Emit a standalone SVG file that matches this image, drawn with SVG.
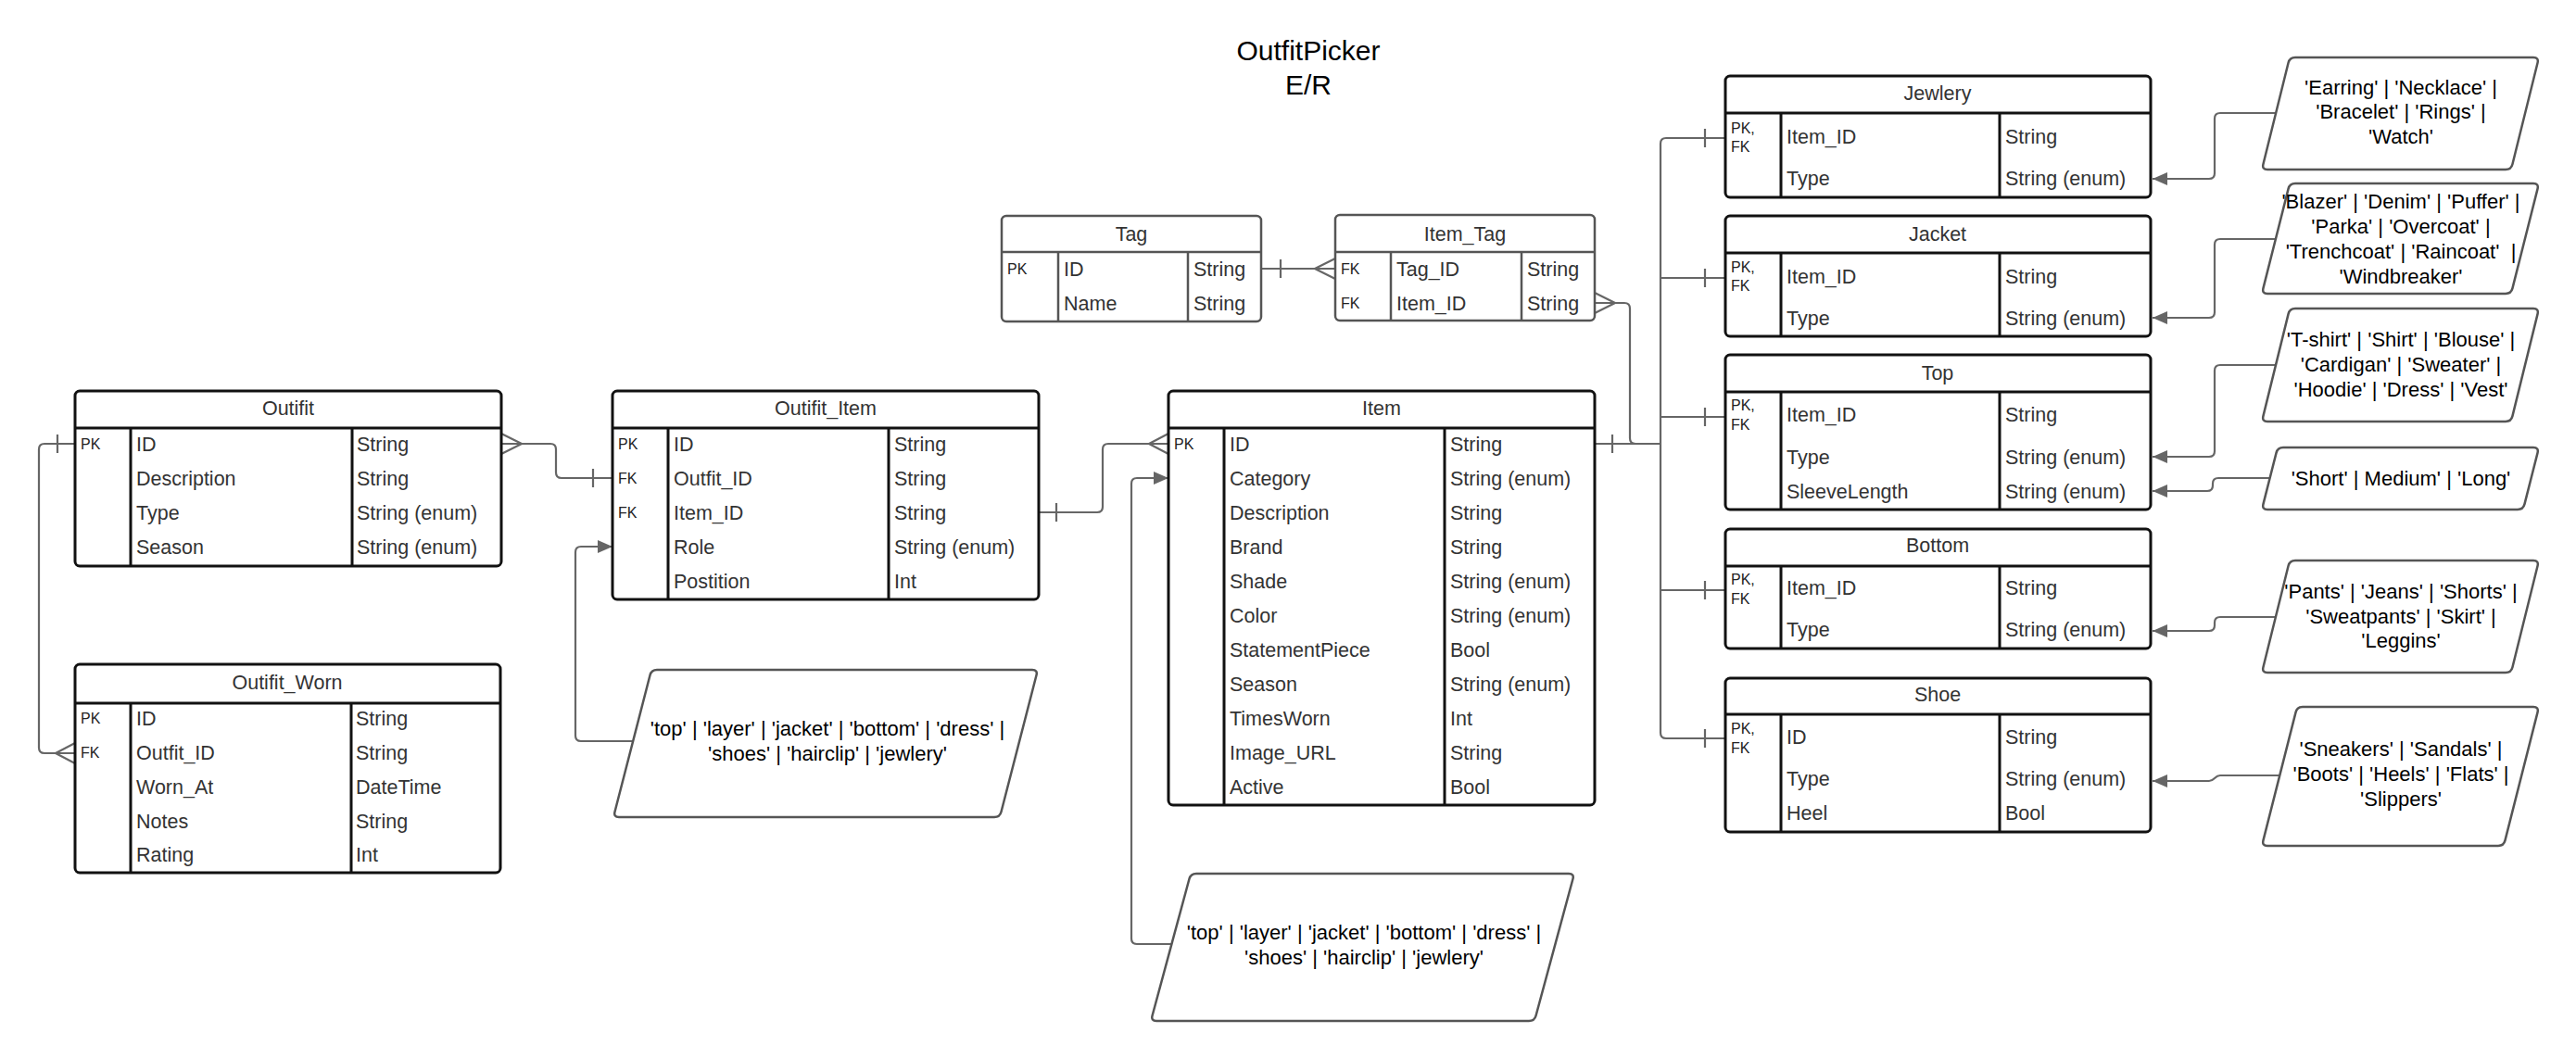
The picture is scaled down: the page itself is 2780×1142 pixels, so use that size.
<svg xmlns="http://www.w3.org/2000/svg" width="2780" height="1142" viewBox="0 0 2780 1142">
<defs>
<style>
.bg{fill:#fff}
.box{fill:#fff;stroke:#111;stroke-width:3}
.tbox{fill:#fff;stroke:#555;stroke-width:2.5}
.dv{stroke:#111;stroke-width:3}
.tdv{stroke:#555;stroke-width:2.5}
text{font-family:"Liberation Sans",Arial,sans-serif}
.t{font-size:21.5px;fill:#333}
.h{font-size:21.5px;fill:#333;text-anchor:middle}
.k{font-size:16px;fill:#222}
.note{fill:#fff;stroke:#555;stroke-width:2.5}
.nt{font-size:22px;fill:#000;text-anchor:middle}
.ttl{font-size:30px;fill:#000;text-anchor:middle}
.c{fill:none;stroke:#666;stroke-width:2.2}
.ar{fill:none;stroke:#666;stroke-width:2.2;marker-end:url(#arr)}
</style>
<marker id="arr" markerUnits="userSpaceOnUse" markerWidth="16" markerHeight="14" refX="16" refY="7" orient="auto">
<path d="M0,0 L16,7 L0,14 z" fill="#666"/>
</marker>
</defs>
<rect class="bg" x="0" y="0" width="2780" height="1142"/>

<g id="title">
<text class="ttl" x="1412" y="65">OutfitPicker</text>
<text class="ttl" x="1412" y="102">E/R</text>
</g>

<g id="connectors">
<!-- Outfit - Outfit_Worn -->
<path class="c" d="M81,479 H48 Q42,479 42,485 V807 Q42,813 48,813 H81"/>
<path class="c" d="M62,469 V489"/>
<path class="c" d="M60,813 L81,802 M60,813 L81,824"/>
<!-- Outfit - Outfit_Item -->
<path class="c" d="M541,479 H594 Q600,479 600,485 V510 Q600,516 606,516 H661"/>
<path class="c" d="M563,479 L541,468 M563,479 L541,490"/>
<path class="c" d="M640,506 V526"/>
<!-- Outfit_Item - Item -->
<path class="c" d="M1121,553 H1184 Q1190,553 1190,547 V485 Q1190,479 1196,479 H1261"/>
<path class="c" d="M1140,543 V563"/>
<path class="c" d="M1240,479 L1261,468 M1240,479 L1261,490"/>
<!-- Tag - Item_Tag -->
<path class="c" d="M1361,290 H1441"/>
<path class="c" d="M1382,280 V300"/>
<path class="c" d="M1419,290 L1441,279 M1419,290 L1441,301"/>
<!-- Item_Tag - Item -->
<path class="c" d="M1721,327 H1753 Q1759,327 1759,333 V473 Q1759,479 1765,479 H1792"/>
<path class="c" d="M1743,327 L1721,316 M1743,327 L1721,338"/>
<!-- Item - subtypes -->
<path class="c" d="M1721,479 H1792"/>
<path class="c" d="M1740,469 V489"/>
<path class="c" d="M1862,149 H1798 Q1792,149 1792,155 V791 Q1792,797 1798,797 H1862"/>
<path class="c" d="M1792,300 H1862 M1792,450 H1862 M1792,637 H1862"/>
<path class="c" d="M1840,139 V159 M1840,290 V310 M1840,440 V460 M1840,627 V647 M1840,787 V807"/>
<!-- enum notes -->
<path class="ar" d="M683,800 H627 Q621,800 621,794 V596 Q621,590 627,590 H661"/>
<path class="ar" d="M1264,1019 H1227 Q1221,1019 1221,1013 V522 Q1221,516 1227,516 H1261"/>
<path class="ar" d="M2456,122 H2396 Q2390,122 2390,128 V187 Q2390,193 2384,193 H2323"/>
<path class="ar" d="M2456,258 H2396 Q2390,258 2390,264 V337 Q2390,343 2384,343 H2323"/>
<path class="ar" d="M2456,394 H2396 Q2390,394 2390,400 V487 Q2390,493 2384,493 H2323"/>
<path class="ar" d="M2450,516 H2394 Q2388,516 2388,522 V524 Q2388,530 2382,530 H2323"/>
<path class="ar" d="M2456,666 H2396 Q2390,666 2390,672 V675 Q2390,681 2384,681 H2323"/>
<path class="ar" d="M2460,837 H2396 C2390,837 2390,843 2384,843 H2323"/>
</g>

<g id="outfit">
<rect class="box" x="81" y="422" width="460" height="189" rx="5"/>
<path class="dv" d="M81,462 H541 M141,462 V611 M380,462 V611"/>
<text class="h" x="311" y="448">Outifit</text>
<text class="k" x="87" y="484.7">PK</text>
<text class="t" x="147" y="486.7">ID</text><text class="t" x="385" y="486.7">String</text>
<text class="t" x="147" y="523.7">Description</text><text class="t" x="385" y="523.7">String</text>
<text class="t" x="147" y="560.7">Type</text><text class="t" x="385" y="560.7">String (enum)</text>
<text class="t" x="147" y="597.7">Season</text><text class="t" x="385" y="597.7">String (enum)</text>
</g>

<g id="outfit_worn">
<rect class="box" x="81" y="717" width="459" height="225" rx="5"/>
<path class="dv" d="M81,759 H540 M141,759 V942 M379,759 V942"/>
<text class="h" x="310" y="744">Outifit_Worn</text>
<text class="k" x="87" y="780.7">PK</text>
<text class="k" x="87" y="817.7">FK</text>
<text class="t" x="147" y="782.7">ID</text><text class="t" x="384" y="782.7">String</text>
<text class="t" x="147" y="819.7">Outfit_ID</text><text class="t" x="384" y="819.7">String</text>
<text class="t" x="147" y="856.7">Worn_At</text><text class="t" x="384" y="856.7">DateTime</text>
<text class="t" x="147" y="893.7">Notes</text><text class="t" x="384" y="893.7">String</text>
<text class="t" x="147" y="929.7">Rating</text><text class="t" x="384" y="929.7">Int</text>
</g>

<g id="outfit_item">
<rect class="box" x="661" y="422" width="460" height="225" rx="5"/>
<path class="dv" d="M661,462 H1121 M721,462 V647 M959,462 V647"/>
<text class="h" x="891" y="448">Outifit_Item</text>
<text class="k" x="667" y="484.7">PK</text>
<text class="k" x="667" y="521.7">FK</text>
<text class="k" x="667" y="558.7">FK</text>
<text class="t" x="727" y="486.7">ID</text><text class="t" x="965" y="486.7">String</text>
<text class="t" x="727" y="523.7">Outfit_ID</text><text class="t" x="965" y="523.7">String</text>
<text class="t" x="727" y="560.7">Item_ID</text><text class="t" x="965" y="560.7">String</text>
<text class="t" x="727" y="597.7">Role</text><text class="t" x="965" y="597.7">String (enum)</text>
<text class="t" x="727" y="634.7">Postition</text><text class="t" x="965" y="634.7">Int</text>
</g>

<g id="tag">
<rect class="tbox" x="1081" y="233" width="280" height="114" rx="5"/>
<path class="tdv" d="M1081,272 H1361 M1142,272 V347 M1282,272 V347"/>
<text class="h" x="1221" y="260">Tag</text>
<text class="k" x="1087" y="295.7">PK</text>
<text class="t" x="1148" y="297.7">ID</text><text class="t" x="1288" y="297.7">String</text>
<text class="t" x="1148" y="334.7">Name</text><text class="t" x="1288" y="334.7">String</text>
</g>

<g id="item_tag">
<rect class="tbox" x="1441" y="232" width="280" height="114" rx="5"/>
<path class="tdv" d="M1441,272 H1721 M1501,272 V346 M1642,272 V346"/>
<text class="h" x="1581" y="260">Item_Tag</text>
<text class="k" x="1447" y="295.7">FK</text>
<text class="k" x="1447" y="332.7">FK</text>
<text class="t" x="1507" y="297.7">Tag_ID</text><text class="t" x="1648" y="297.7">String</text>
<text class="t" x="1507" y="334.7">Item_ID</text><text class="t" x="1648" y="334.7">String</text>
</g>

<g id="item">
<rect class="box" x="1261" y="422" width="460" height="447" rx="5"/>
<path class="dv" d="M1261,462 H1721 M1321,462 V869 M1559,462 V869"/>
<text class="h" x="1491" y="448">Item</text>
<text class="k" x="1267" y="484.7">PK</text>
<text class="t" x="1327" y="486.7">ID</text><text class="t" x="1565" y="486.7">String</text>
<text class="t" x="1327" y="523.7">Category</text><text class="t" x="1565" y="523.7">String (enum)</text>
<text class="t" x="1327" y="560.7">Description</text><text class="t" x="1565" y="560.7">String</text>
<text class="t" x="1327" y="597.7">Brand</text><text class="t" x="1565" y="597.7">String</text>
<text class="t" x="1327" y="634.7">Shade</text><text class="t" x="1565" y="634.7">String (enum)</text>
<text class="t" x="1327" y="671.7">Color</text><text class="t" x="1565" y="671.7">String (enum)</text>
<text class="t" x="1327" y="708.7">StatementPiece</text><text class="t" x="1565" y="708.7">Bool</text>
<text class="t" x="1327" y="745.7">Season</text><text class="t" x="1565" y="745.7">String (enum)</text>
<text class="t" x="1327" y="782.7">TimesWorn</text><text class="t" x="1565" y="782.7">Int</text>
<text class="t" x="1327" y="819.7">Image_URL</text><text class="t" x="1565" y="819.7">String</text>
<text class="t" x="1327" y="856.7">Active</text><text class="t" x="1565" y="856.7">Bool</text>
</g>

<g id="jewlery">
<rect class="box" x="1862" y="82" width="459" height="131" rx="5"/>
<path class="dv" d="M1862,122 H2321 M1922,122 V213 M2158,122 V213"/>
<text class="h" x="2091" y="107.7">Jewlery</text>
<text class="k" x="1868" y="143.7">PK,</text><text class="k" x="1868" y="163.7">FK</text>
<text class="t" x="1928" y="154.7">Item_ID</text><text class="t" x="2164" y="154.7">String</text>
<text class="t" x="1928" y="199.7">Type</text><text class="t" x="2164" y="199.7">String (enum)</text>
</g>

<g id="jacket">
<rect class="box" x="1862" y="233" width="459" height="130" rx="5"/>
<path class="dv" d="M1862,273 H2321 M1922,273 V363 M2158,273 V363"/>
<text class="h" x="2091" y="259.7">Jacket</text>
<text class="k" x="1868" y="293.7">PK,</text><text class="k" x="1868" y="313.7">FK</text>
<text class="t" x="1928" y="305.7">Item_ID</text><text class="t" x="2164" y="305.7">String</text>
<text class="t" x="1928" y="350.7">Type</text><text class="t" x="2164" y="350.7">String (enum)</text>
</g>

<g id="top">
<rect class="box" x="1862" y="383" width="459" height="167" rx="5"/>
<path class="dv" d="M1862,423 H2321 M1922,423 V550 M2158,423 V550"/>
<text class="h" x="2091" y="409.7">Top</text>
<text class="k" x="1868" y="442.7">PK,</text><text class="k" x="1868" y="463.7">FK</text>
<text class="t" x="1928" y="454.7">Item_ID</text><text class="t" x="2164" y="454.7">String</text>
<text class="t" x="1928" y="500.7">Type</text><text class="t" x="2164" y="500.7">String (enum)</text>
<text class="t" x="1928" y="537.7">SleeveLength</text><text class="t" x="2164" y="537.7">String (enum)</text>
</g>

<g id="bottom">
<rect class="box" x="1862" y="571" width="459" height="129" rx="5"/>
<path class="dv" d="M1862,611 H2321 M1922,611 V700 M2158,611 V700"/>
<text class="h" x="2091" y="596">Bottom</text>
<text class="k" x="1868" y="630.7">PK,</text><text class="k" x="1868" y="651.7">FK</text>
<text class="t" x="1928" y="641.7">Item_ID</text><text class="t" x="2164" y="641.7">String</text>
<text class="t" x="1928" y="686.7">Type</text><text class="t" x="2164" y="686.7">String (enum)</text>
</g>

<g id="shoe">
<rect class="box" x="1862" y="732" width="459" height="166" rx="5"/>
<path class="dv" d="M1862,771 H2321 M1922,771 V898 M2158,771 V898"/>
<text class="h" x="2091" y="756.7">Shoe</text>
<text class="k" x="1868" y="791.7">PK,</text><text class="k" x="1868" y="812.7">FK</text>
<text class="t" x="1928" y="802.7">ID</text><text class="t" x="2164" y="802.7">String</text>
<text class="t" x="1928" y="847.7">Type</text><text class="t" x="2164" y="847.7">String (enum)</text>
<text class="t" x="1928" y="884.7">Heel</text><text class="t" x="2164" y="884.7">Bool</text>
</g>

<g id="note_role">
<path class="note" d="M709,723 L1114,723 Q1120,723 1118.5,728.81 L1080.5,876.19 Q1079,882 1073,882 L668,882 Q662,882 663.5,876.19 L701.5,728.81 Q703,723 709,723 Z"/>
<text class="nt" x="893" y="793.9">'top' | 'layer' | 'jacket' | 'bottom' | 'dress' |</text>
<text class="nt" x="893" y="820.9">'shoes' | 'hairclip' | 'jewlery'</text>
</g>

<g id="note_category">
<path class="note" d="M1291,943 L1693,943 Q1699,943 1697.43,948.79 L1657.57,1096.21 Q1656,1102 1650,1102 L1248,1102 Q1242,1102 1243.57,1096.21 L1283.43,948.79 Q1285,943 1291,943 Z"/>
<text class="nt" x="1472" y="1013.9">'top' | 'layer' | 'jacket' | 'bottom' | 'dress' |</text>
<text class="nt" x="1472" y="1040.9">'shoes' | 'hairclip' | 'jewlery'</text>
</g>

<g id="note_jewlery">
<path class="note" d="M2477,62 L2734,62 Q2740,62 2738.56,67.82 L2711.44,177.18 Q2710,183 2704,183 L2447,183 Q2441,183 2442.44,177.18 L2469.56,67.82 Q2471,62 2477,62 Z"/>
<text class="nt" x="2591" y="101.9">'Earring' | 'Necklace' |</text>
<text class="nt" x="2591" y="127.9">'Bracelet' | 'Rings' |</text>
<text class="nt" x="2591" y="154.9">'Watch'</text>
</g>

<g id="note_jacket">
<path class="note" d="M2477,198 L2734,198 Q2740,198 2738.53,203.82 L2711.47,311.18 Q2710,317 2704,317 L2447,317 Q2441,317 2442.47,311.18 L2469.53,203.82 Q2471,198 2477,198 Z"/>
<text class="nt" x="2591" y="224.9">'Blazer' | 'Denim' | 'Puffer' |</text>
<text class="nt" x="2591" y="251.9">'Parka' | 'Overcoat' |</text>
<text class="nt" x="2591" y="278.9">'Trenchcoat' | 'Raincoat'&#160; |</text>
<text class="nt" x="2591" y="305.9">'Windbreaker'</text>
</g>

<g id="note_top">
<path class="note" d="M2477,333 L2734,333 Q2740,333 2738.57,338.83 L2711.43,449.17 Q2710,455 2704,455 L2447,455 Q2441,455 2442.43,449.17 L2469.57,338.83 Q2471,333 2477,333 Z"/>
<text class="nt" x="2591" y="373.9">'T-shirt' | 'Shirt' | 'Blouse' |</text>
<text class="nt" x="2591" y="400.9">'Cardigan' | 'Sweater' |</text>
<text class="nt" x="2591" y="427.9">'Hoodie' | 'Dress' | 'Vest'</text>
</g>

<g id="note_sleeve">
<path class="note" d="M2464,483 L2734,483 Q2740,483 2738.52,488.82 L2724.48,544.18 Q2723,550 2717,550 L2447,550 Q2441,550 2442.48,544.18 L2456.52,488.82 Q2458,483 2464,483 Z"/>
<text class="nt" x="2591" y="523.9">'Short' | Medium' | 'Long'</text>
</g>

<g id="note_bottom">
<path class="note" d="M2477,605 L2734,605 Q2740,605 2738.56,610.82 L2711.44,720.18 Q2710,726 2704,726 L2447,726 Q2441,726 2442.44,720.18 L2469.56,610.82 Q2471,605 2477,605 Z"/>
<text class="nt" x="2591" y="645.9">'Pants' | 'Jeans' | 'Shorts' |</text>
<text class="nt" x="2591" y="672.9">'Sweatpants' | 'Skirt' |</text>
<text class="nt" x="2591" y="698.9">'Leggins'</text>
</g>

<g id="note_shoe">
<path class="note" d="M2485,763 L2734,763 Q2740,763 2738.53,768.82 L2703.47,907.18 Q2702,913 2696,913 L2447,913 Q2441,913 2442.47,907.18 L2477.53,768.82 Q2479,763 2485,763 Z"/>
<text class="nt" x="2591" y="815.9">'Sneakers' | 'Sandals' |</text>
<text class="nt" x="2591" y="842.9">'Boots' | 'Heels' | 'Flats' |</text>
<text class="nt" x="2591" y="869.9">'Slippers'</text>
</g>
</svg>
